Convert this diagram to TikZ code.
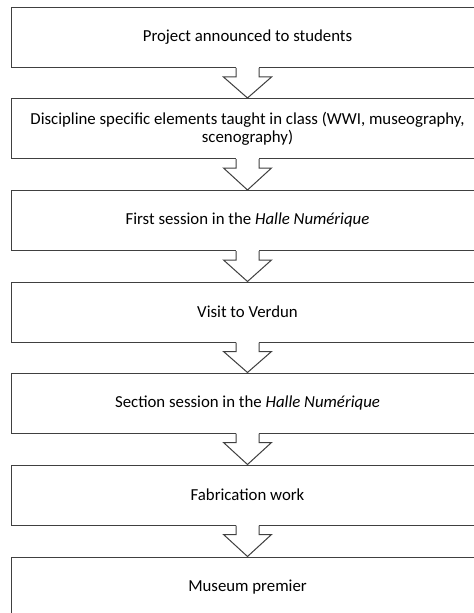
\documentclass[tikz,border=0pt]{standalone}
\usepackage{fontspec}
\setmainfont{Carlito}
\usetikzlibrary{calc}
\tikzset{stage/.style={draw=black!75,line width=0.75pt,fill=white,minimum width=354.75pt,minimum height=45pt,inner sep=0pt,align=center}}
\tikzset{t/.style={font=\fontsize{12.6}{13.5}\selectfont}}
\newcommand{\flowarrow}[2]{%
  \fill[white] ($(#1.south)+(-11.5,-1)$) rectangle ($(#1.south)+(11.5,1)$);
  \draw[black!75,line width=0.75pt] ($(#1.south)+(-11.5,0)$) -- ++(0,9) -- ++(-12.5,0)
    -- (#2.north) -- ($(#1.south)+(24,9)$) -- ++(-12.5,0) -- ++(0,-9);}

\begin{document}
\begin{tikzpicture}[x=0.75pt,y=-0.75pt]
        \clip (0,0) rectangle (474,613);
        \fill[white] (0,0) rectangle (474,613);
        \begin{scope}[t]
          \node[stage] (P) at (247.5,37.5) {Project announced to students};
          \node[stage] (D) at (247.5,128.5) {Discipline specific elements taught in class (WWI, museography,\\ scenography)};
          \node[stage] (F) at (247.5,220.5) {First session in the \textit{Halle Numérique}};
          \node[stage] (V) at (247.5,312) {Visit to Verdun};
          \node[stage] (S) at (247.5,403) {Section session in the \textit{Halle Numérique}};
          \node[stage] (W) at (247.5,495) {Fabrication work};
          \node[stage] (M) at (247.5,587) {Museum premier};
        \end{scope}
        \flowarrow{P}{D}
        \flowarrow{D}{F}
        \flowarrow{F}{V}
        \flowarrow{V}{S}
        \flowarrow{S}{W}
        \flowarrow{W}{M}
      \end{tikzpicture}
\end{document}
